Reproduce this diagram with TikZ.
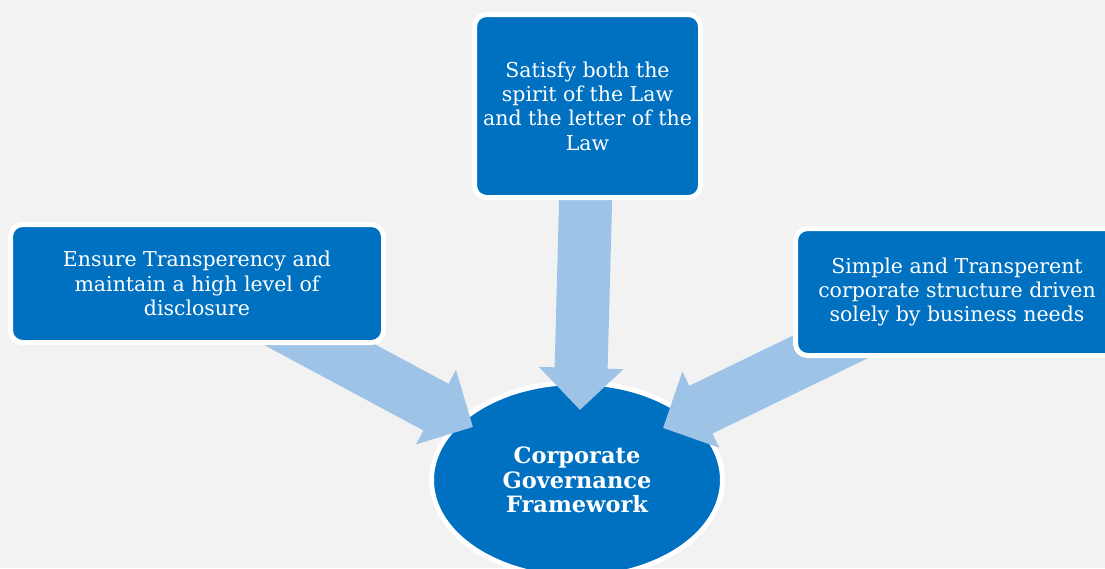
\documentclass[tikz,border=0pt]{standalone}
\usepackage{fontspec}
\setmainfont{DejaVu Serif}
\usetikzlibrary{arrows.meta,shapes.geometric,positioning}
\definecolor{boxblue}{HTML}{0070C0}
\definecolor{arrowblue}{HTML}{9DC3E6}
\definecolor{paper}{HTML}{F2F2F2}
\pgfdeclarelayer{back}
\pgfdeclarelayer{mid}
\pgfsetlayers{back,mid,main}

\begin{document}
\begin{tikzpicture}[x=1pt,y=-1pt,
  goal/.style={rectangle,rounded corners=12pt,draw=white,line width=5pt,fill=boxblue,
    text=white,align=center,inner sep=0pt,font=\fontsize{20.5}{24.3}\selectfont},
  hub/.style={ellipse,draw=white,line width=5pt,fill=boxblue,text=white,align=center,
    inner sep=0pt,minimum width=291pt,minimum height=195pt,
    font=\fontsize{22.5}{24.5}\selectfont\bfseries},
  feed/.style={draw=arrowblue,line width=53pt,-{Triangle[length=42pt,width=82pt]}}]
  \useasboundingbox (0,0) rectangle (1105,568);

  \begin{pgfonlayer}{back}
    \fill[paper] (0,0) rectangle (1105,568);
    \node[hub] (cgf) at (577,480) {Corporate\\Governance\\Framework};
  \end{pgfonlayer}

  \node[goal,minimum width=226pt,minimum height=183pt] (law)   at (587.5,106)
    {Satisfy both the\\spirit of the Law\\and the letter of the\\Law};
  \node[goal,minimum width=373pt,minimum height=118pt] (trans) at (197,283.5)
    {Ensure Transperency and\\maintain a high level of\\disclosure};
  \node[goal,minimum width=323pt,minimum height=127pt] (struct) at (957,292)
    {Simple and Transperent\\corporate structure driven\\solely by business needs};

  % tails hidden under the boxes, tips on the ellipse
  \coordinate (lawfoot)    at (586,185);
  \coordinate (transfoot)  at (240,302);
  \coordinate (structfoot) at (888,319);
  \coordinate (tiptop)     at (580,410);
  \coordinate (tipleft)    at (473,427);
  \coordinate (tipright)   at (663,428);

  \begin{pgfonlayer}{mid}
    \path (lawfoot)    edge[feed] (tiptop)
          (transfoot)  edge[feed] (tipleft)
          (structfoot) edge[feed] (tipright);
  \end{pgfonlayer}
\end{tikzpicture}
\end{document}
